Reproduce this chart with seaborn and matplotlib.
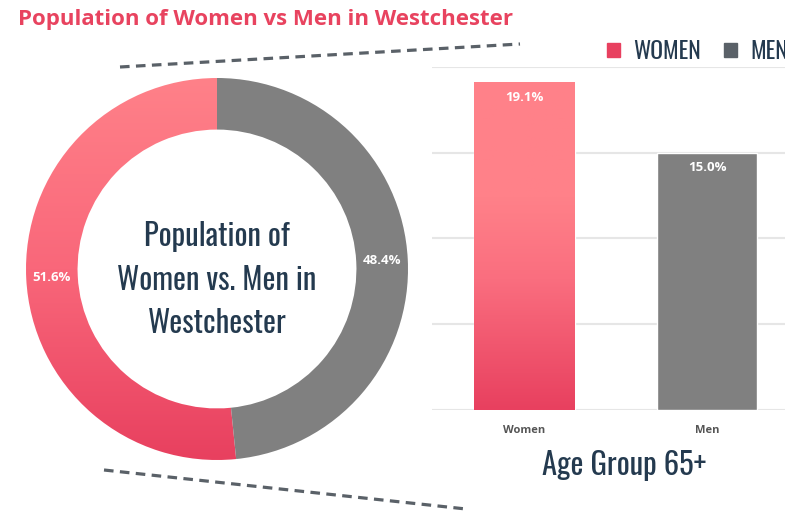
import numpy as np
import pandas as pd
import matplotlib
matplotlib.use("Agg")
import matplotlib.pyplot as plt
from matplotlib import font_manager
from matplotlib.colors import LinearSegmentedColormap
from matplotlib.patches import Patch
from matplotlib.lines import Line2D
import seaborn as sns

# =========================
# DATA
# =========================
title = "Population of Women vs Men in Westchester"
donut_labels = ["Men", "Women"]
donut_values = [48.4, 51.6]
donut_center_text = "Population of\nWomen vs. Men in\nWestchester"

bar_categories = ["Women", "Men"]
bar_values = [19.1, 15.0]
bar_xlabel = "Age Group 65+"
legend_labels = ["WOMEN", "MEN"]

# =========================
# STYLE
# =========================
sns.set_theme(style="white")
plt.rcParams["font.family"] = ["Open Sans", "DejaVu Sans"]

PINK_LIGHT = "#FF8189"
PINK_DARK = "#E8405F"
GREY = "#808080"
SLATE = "#5A6168"
NAVY = "#243A4F"

# condensed face for the headline texts (Oswald-like)
installed = {f.name for f in font_manager.fontManager.ttflist}
COND = [n for n in ["Oswald", "Barlow Condensed", "Archivo Narrow"] if n in installed]
COND += ["DejaVu Sans"]

pink_cmap = LinearSegmentedColormap.from_list(
    "pink", [(0, PINK_DARK), (0.5, "#F9677A"), (1, PINK_LIGHT)])
bar_cmap = LinearSegmentedColormap.from_list(
    "pinkbar", [(0, PINK_DARK), (0.4, "#FA6E7F"), (0.65, PINK_LIGHT), (1, PINK_LIGHT)])

W, H = 785, 511
fig = plt.figure(figsize=(W / 100, H / 100), dpi=100)

def box(x0, y0, x1, y1):
    # pixel box (top-left origin) -> figure fraction
    return [x0 / W, 1 - y1 / H, (x1 - x0) / W, (y1 - y0) / H]

# =========================
# DONUT
# =========================
cx, cy, r = 217, 269, 191
ax_pie = fig.add_axes(box(cx - r, cy - r, cx + r, cy + r))
wedges, _, autotexts = ax_pie.pie(
    donut_values, colors=[GREY, PINK_DARK], startangle=90, counterclock=False,
    wedgeprops=dict(width=0.27, edgecolor="none"),
    autopct="%.1f%%", pctdistance=0.865,
    textprops=dict(color="white", fontsize=9.5, fontweight="bold"))
wedges[1].set_facecolor("none")
grad = np.linspace(0, 1, 256).reshape(-1, 1)
im = ax_pie.imshow(grad, extent=(-1, 1, -1, 1), origin="lower", cmap=pink_cmap,
                   aspect="auto", zorder=0.5)
im.set_clip_path(wedges[1])
for t in autotexts:
    t.set_zorder(5)
ax_pie.set_xlim(-1, 1)
ax_pie.set_ylim(-1, 1)
ax_pie.set_aspect("equal")
ax_pie.axis("off")
ax_pie.text(0, -0.06, donut_center_text, ha="center", va="center", color=NAVY,
            fontsize=22, family=COND, linespacing=1.5)

# =========================
# BAR CHART
# =========================
ax = fig.add_axes(box(432, 67, 785, 410))
df = pd.DataFrame({"cat": bar_categories, "val": bar_values})
sns.barplot(data=df, x="cat", y="val", hue="cat", palette=[PINK_DARK, GREY],
            width=0.55, legend=False, ax=ax, zorder=3)
women_bar = ax.patches[0]
bx, bw, bh = women_bar.get_x(), women_bar.get_width(), women_bar.get_height()
women_bar.set_facecolor("none")
bim = ax.imshow(grad, extent=(bx, bx + bw, 0, bh), origin="lower", cmap=bar_cmap,
                aspect="auto", zorder=3)
bim.set_clip_path(women_bar)

ax.set_xlim(-0.507, 1.427)
ax.set_ylim(0, 20)
ax.set_yticks([0, 5, 10, 15, 20])
ax.yaxis.grid(True, color="#E6E6E6", lw=1.5, zorder=0)
ax.set_yticklabels([])
ax.tick_params(axis="both", length=0)
ax.tick_params(axis="x", pad=11, labelsize=8, labelcolor="#555555")
for lbl in ax.get_xticklabels():
    lbl.set_fontweight("bold")
for s in ax.spines.values():
    s.set_visible(False)
ax.set_xlabel(bar_xlabel, fontsize=22, family=COND, color=NAVY, labelpad=10)
ax.xaxis.label.set_x(0.543)
ax.set_ylabel("")

for i, v in enumerate(bar_values):
    ax.text(i, v - 0.85, f"{v:.1f}%", ha="center", va="center", color="white",
            fontsize=9.5, fontweight="bold", zorder=5)

handles = [Patch(color=PINK_DARK), Patch(color=SLATE)]
leg = fig.legend(handles, legend_labels, loc="center left",
                 bbox_to_anchor=(607 / W, 1 - 51 / H), ncol=2, frameon=False,
                 borderpad=0, borderaxespad=0,
                 handlelength=0.55, handleheight=0.55, handletextpad=0.55,
                 columnspacing=1.0, prop=dict(family=COND, size=17))
for t in leg.get_texts():
    t.set_color(NAVY)

# =========================
# TITLE & CONNECTORS
# =========================
fig.text(18 / W, 1 - 19 / H, title, ha="left", va="center", color="#E8435F",
         fontsize=16, fontweight="bold")
for (x0, y0), (x1, y1) in [((120, 67), (520, 44)), ((104, 470), (466, 509))]:
    fig.add_artist(Line2D([x0 / W, x1 / W], [1 - y0 / H, 1 - y1 / H],
                          color=SLATE, lw=2.3, ls=(0, (3, 2))))

fig.savefig("out.png", dpi=100)
